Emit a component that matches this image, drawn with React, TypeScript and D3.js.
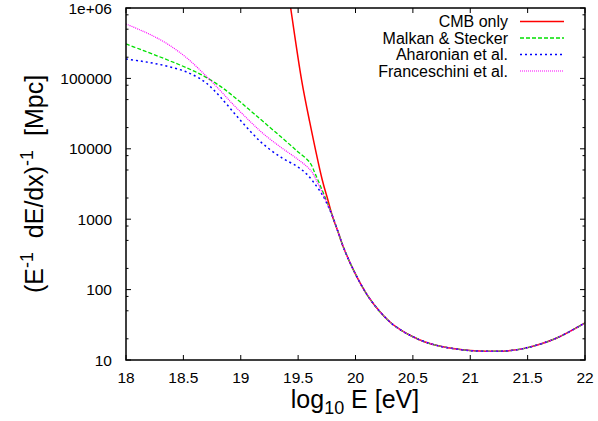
import React from "react";
import * as d3 from "d3";

const W = 598;
const H = 421;
const M = { left: 126, right: 585, top: 8, bottom: 360 };

const xTicks = [18, 18.5, 19, 19.5, 20, 20.5, 21, 21.5, 22];
const yTicks = [10, 100, 1000, 10000, 100000, 1000000];
const yTickLabels = ["10", "100", "1000", "10000", "100000", "1e+06"];
const yMinorMult = [2, 5, 8];

// common high-energy tail (log10 E [eV], Mpc)
const tailE = [19.8, 19.85, 19.9, 20.0, 20.1, 20.2, 20.3, 20.4, 20.5, 20.6, 20.75, 21.0, 21.2, 21.35, 21.5, 21.75, 22.0];
const tailV = [1096, 646, 380, 166, 85.1, 51.3, 34.7, 26.3, 21.4, 18.2, 15.5, 13.6, 13.3, 13.6, 15.0, 20.4, 33.6];

const cmbE = [19.35, 19.435, 19.53, 19.6, 19.71, 19.76];
const cmbV = [8900000, 1000000, 95500, 24500, 3630, 1860];

const malkanE = [18.0, 18.12, 18.24, 18.38, 18.53, 18.67, 18.82, 18.91, 19.0, 19.1, 19.2, 19.35, 19.49, 19.6, 19.65, 19.7, 19.75];
const malkanV = [309000, 260000, 219000, 178000, 141000, 110000, 77600, 60300, 45700, 33100, 24000, 14800, 9330, 6460, 4370, 2820, 1780];

const aharE = [18.0, 18.12, 18.24, 18.38, 18.53, 18.67, 18.75, 18.82, 18.91, 19.0, 19.1, 19.2, 19.35, 19.49, 19.575, 19.66, 19.72, 19.76];
const aharV = [188800, 177000, 164100, 146200, 123000, 93300, 72400, 55000, 37200, 25100, 16600, 11500, 7590, 5620, 4370, 2950, 2090, 1550];

const franE = [18.0, 18.12, 18.24, 18.38, 18.53, 18.67, 18.82, 18.91, 19.0, 19.1, 19.2, 19.35, 19.49, 19.575, 19.62, 19.66, 19.72, 19.76];
const franV = [593000, 490000, 398000, 295000, 195000, 120000, 67600, 46800, 33100, 22900, 16200, 10500, 7240, 5620, 4680, 3550, 2190, 1580];

const seriesNames = ["CMB only", "Malkan & Stecker", "Aharonian et al.", "Franceschini et al."];
const seriesColors = ["#ff0000", "#00e000", "#0000ff", "#ff00ff"];
const seriesDash = ["", "4,2", "2,3", "1,1"];
const seriesWidth = [1.5, 1.3, 1.5, 1.2];

const FONT = "'Liberation Sans', Arial, Helvetica, sans-serif";

export default function App() {
  const x = d3.scaleLinear().domain([18, 22]).range([M.left, M.right]);
  const y = d3.scaleLog().domain([10, 1e6]).range([M.bottom, M.top]);

  const series = [
    { e: cmbE.concat(tailE), v: cmbV.concat(tailV) },
    { e: malkanE.concat(tailE), v: malkanV.concat(tailV) },
    { e: aharE.concat(tailE), v: aharV.concat(tailV) },
    { e: franE.concat(tailE), v: franV.concat(tailV) },
  ];

  const line = d3
    .line<[number, number]>()
    .x((d) => x(d[0]))
    .y((d) => y(d[1]))
    .curve(d3.curveCatmullRom.alpha(0.5));

  const minor: number[] = [];
  for (let k = 1; k < 6; k++) {
    for (const m of yMinorMult) minor.push(m * Math.pow(10, k));
  }

  const legendY = [21.5, 38, 54.5, 71];

  return (
    <svg
      width={W}
      height={H}
      style={{ position: "absolute", left: 0, top: 0, background: "#fff" }}
      fontFamily={FONT}
    >
      <defs>
        <clipPath id="plotclip">
          <rect x={M.left} y={M.top} width={M.right - M.left} height={M.bottom - M.top} />
        </clipPath>
      </defs>
      <rect x={0} y={0} width={W} height={H} fill="#fff" />

      {/* ticks */}
      <g stroke="#000" strokeWidth={1}>
        {xTicks.map((t, i) => (
          <g key={"xt" + i}>
            <line x1={x(t)} x2={x(t)} y1={M.bottom} y2={M.bottom - 5} />
            <line x1={x(t)} x2={x(t)} y1={M.top} y2={M.top + 5} />
          </g>
        ))}
        {yTicks.map((t, i) => (
          <g key={"yt" + i}>
            <line x1={M.left} x2={M.left + 5} y1={y(t)} y2={y(t)} />
            <line x1={M.right} x2={M.right - 5} y1={y(t)} y2={y(t)} />
          </g>
        ))}
        {minor.map((t, i) => (
          <g key={"ym" + i}>
            <line x1={M.left} x2={M.left + 2.5} y1={y(t)} y2={y(t)} />
            <line x1={M.right} x2={M.right - 2.5} y1={y(t)} y2={y(t)} />
          </g>
        ))}
      </g>

      {/* tick labels */}
      <g fontSize={15.5} fill="#000">
        {xTicks.map((t, i) => (
          <text key={"xl" + i} x={x(t)} y={383} textAnchor="middle">
            {String(t)}
          </text>
        ))}
        {yTicks.map((t, i) => (
          <text key={"yl" + i} x={112} y={y(t) + 5.5} textAnchor="end">
            {yTickLabels[i]}
          </text>
        ))}
      </g>

      {/* curves */}
      <g clipPath="url(#plotclip)" fill="none">
        {series.map((s, i) => (
          <path
            key={"s" + i}
            d={line(s.e.map((e, j) => [e, s.v[j]] as [number, number])) || ""}
            stroke={seriesColors[i]}
            strokeWidth={seriesWidth[i]}
            strokeDasharray={seriesDash[i] || undefined}
          />
        ))}
      </g>

      {/* legend */}
      <g fontSize={16} fill="#000">
        {seriesNames.map((n, i) => (
          <g key={"lg" + i}>
            <text x={508} y={legendY[i] + 5.5} textAnchor="end">
              {n}
            </text>
            <line
              x1={520}
              x2={564}
              y1={legendY[i]}
              y2={legendY[i]}
              stroke={seriesColors[i]}
              strokeWidth={seriesWidth[i]}
              strokeDasharray={seriesDash[i] || undefined}
            />
          </g>
        ))}
      </g>

      {/* frame */}
      <rect
        x={M.left}
        y={M.top}
        width={M.right - M.left}
        height={M.bottom - M.top}
        fill="none"
        stroke="#000"
        strokeWidth={1.5}
      />

      {/* axis titles */}
      <text x={355} y={408} textAnchor="middle" fontSize={25} fill="#000">
        log
        <tspan fontSize={18} dy={6}>10</tspan>
        <tspan dy={-6}> E [eV]</tspan>
      </text>
      <text
        transform={`translate(43,${(M.top + M.bottom) / 2}) rotate(-90)`}
        textAnchor="middle"
        fontSize={25}
        fill="#000"
      >
        (E
        <tspan fontSize={18} dy={-10}>-1</tspan>
        <tspan dy={10}>{"\u00a0\u00a0dE/dx)"}</tspan>
        <tspan fontSize={18} dy={-10}>-1</tspan>
        <tspan dy={10}>{"\u00a0\u00a0[Mpc]"}</tspan>
      </text>
    </svg>
  );
}
